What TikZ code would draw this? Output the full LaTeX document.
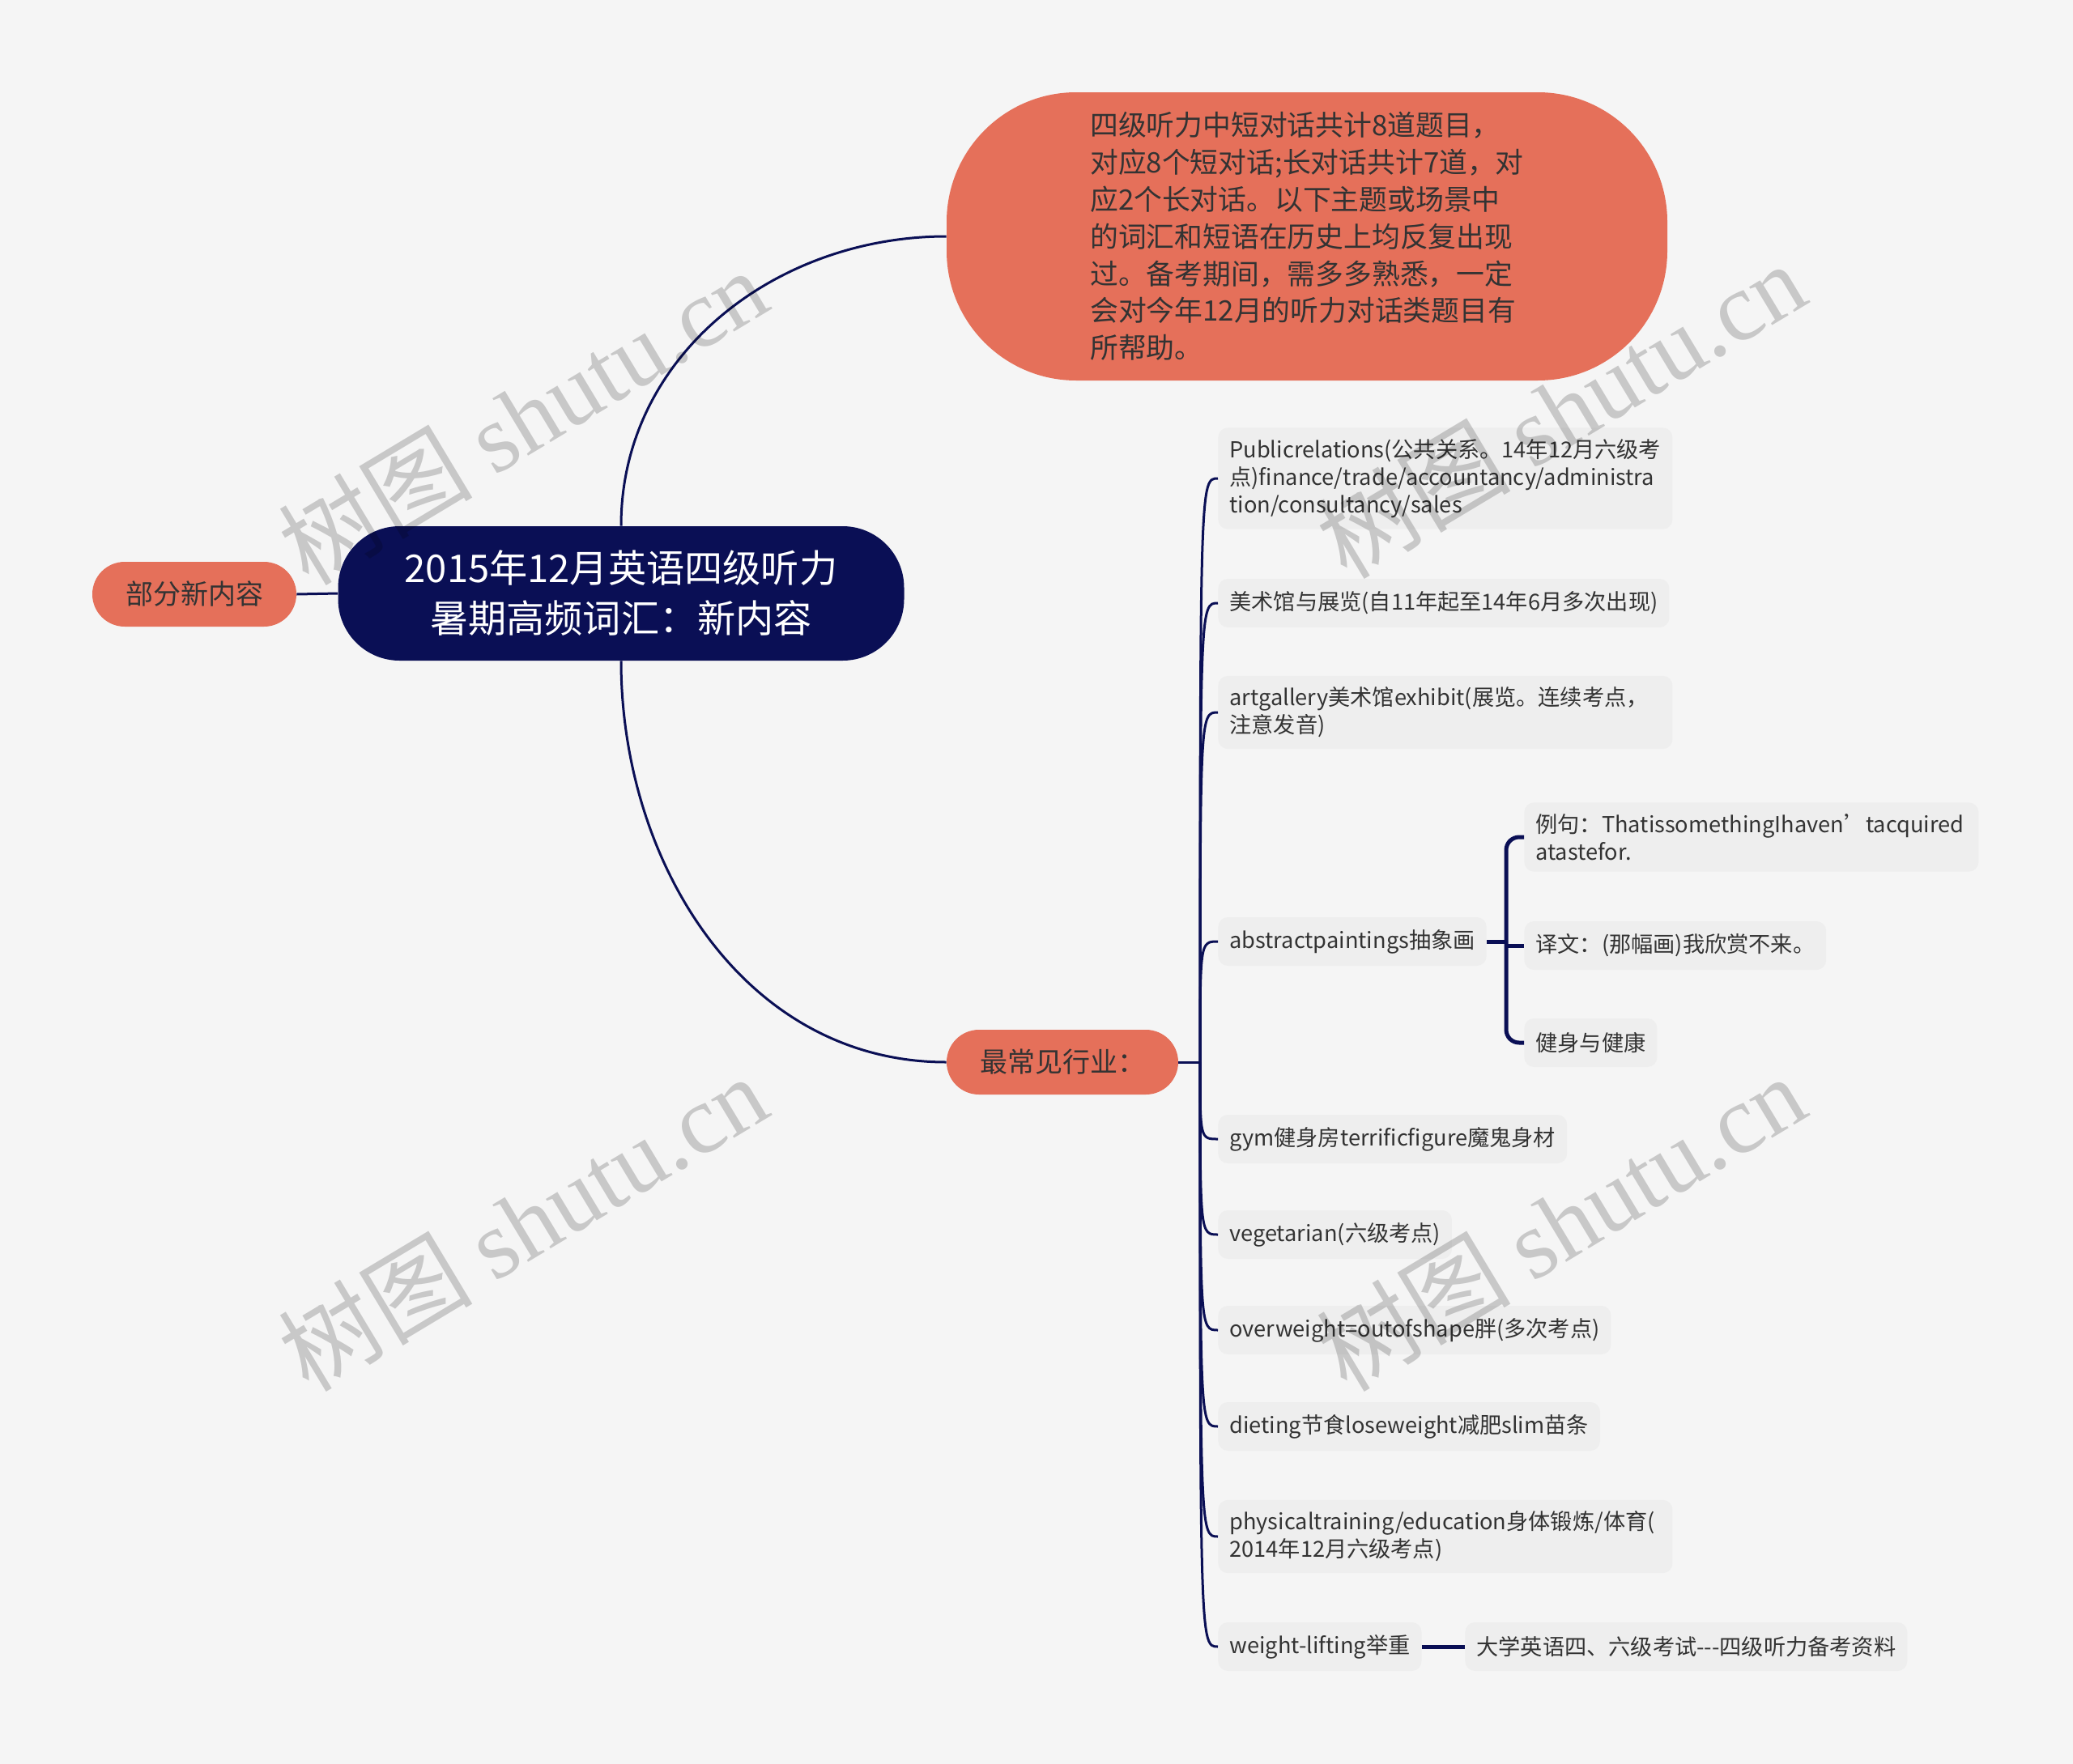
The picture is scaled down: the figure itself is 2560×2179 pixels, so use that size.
\documentclass[tikz,border=0pt]{standalone}
\usepackage{fontspec}
\setmainfont{Noto Sans CJK SC}
\newfontfamily\wmfont{Liberation Serif}
\hyphenpenalty=10000
\exhyphenpenalty=10000

\definecolor{navy}{HTML}{0A0F55}
\definecolor{coral}{HTML}{E5705A}
\definecolor{paper}{HTML}{F5F5F5}
\definecolor{leafgray}{HTML}{EEEEEE}
\definecolor{ink}{HTML}{333333}

\tikzset{
  rootbox/.style={fill=navy, text=white, rounded corners=38pt,
    minimum width=349.5pt, minimum height=83pt, align=center,
    font=\fontsize{23.6}{31}\selectfont},
  coralbox/.style={fill=coral, text=ink, rounded corners=20pt,
    minimum height=40pt, font=\fontsize{17}{22}\selectfont},
  notebox/.style={coralbox, rounded corners=80pt, minimum width=445pt,
    minimum height=178pt, align=left, font=\fontsize{17.4}{22.9}\selectfont},
  leaf/.style={fill=leafgray, text=ink, rounded corners=6pt, anchor=west,
    align=left, inner xsep=7pt, inner ysep=7pt, minimum height=30pt,
    font=\fontsize{13.6}{17}\selectfont},
  wrapleaf/.style={leaf, text width=266.5pt},
  branch/.style={draw=navy, line width=1.5pt},
  bracket/.style={draw=navy, line width=2.5pt},
  wm/.style={text=black, text opacity=0.18, rotate=31,
    font=\fontsize{60}{60}\selectfont}
}

\begin{document}
\begin{tikzpicture}[x=0.5pt, y=-0.5pt]
  \fill[paper] (0,0) rectangle (2560,2179);
  \useasboundingbox (0,0) rectangle (2560,2179);

  % main topic and first level
  \node[rootbox] (root) at (767,733) {2015年12月英语四级听力\\暑期高频词汇：新内容};
  \node[coralbox, minimum width=126pt] (part) at (240,734) {部分新内容};
  \node[notebox] (note) at (1614,292) {四级听力中短对话共计8道题目，\\对应8个短对话;长对话共计7道，对\\应2个长对话。以下主题或场景中\\的词汇和短语在历史上均反复出现\\过。备考期间，需多多熟悉，一定\\会对今年12月的听力对话类题目有\\所帮助。};
  \node[coralbox, minimum width=143pt] (most) at (1312,1312) {最常见行业：};

  \draw[branch] (root.west) -- (part.east);
  \draw[branch] (root.north) to[out=90,in=180] (note.west);
  \draw[branch] (root.south) to[out=-90,in=180] (most.west);

  % leaves of the second branch
  \node[wrapleaf] (pr) at (1504,591) {Publicrelations(公共关系。14年12月六级考\\点)finance/trade/accountancy/administra\\tion/consultancy/sales};
  \node[leaf] (gallery) at (1504,745) {美术馆与展览(自11年起至14年6月多次出现)};
  \node[wrapleaf] (artg) at (1504,880) {artgallery美术馆exhibit(展览。连续考点，\\注意发音)};
  \node[leaf] (abstract) at (1504,1163) {abstractpaintings抽象画};
  \node[leaf] (gym) at (1504,1407) {gym健身房terrificfigure魔鬼身材};
  \node[leaf] (veg) at (1504,1525) {vegetarian(六级考点)};
  \node[leaf] (over) at (1504,1643) {overweight=outofshape胖(多次考点)};
  \node[leaf] (diet) at (1504,1762) {dieting节食loseweight减肥slim苗条};
  \node[wrapleaf] (phys) at (1504,1898) {physicaltraining/education身体锻炼/体育(\\2014年12月六级考点)};
  \node[leaf] (wl) at (1504,2034) {weight-lifting举重};

  \node[wrapleaf] (ex) at (1882,1034) {例句：ThatissomethingIhaven’tacquired\\atastefor.};
  \node[leaf] (tr) at (1882,1168) {译文：(那幅画)我欣赏不来。};
  \node[leaf] (fit) at (1882,1288) {健身与健康};
  \node[leaf] (dx) at (1809,2034) {大学英语四、六级考试-\kern0pt-\kern0pt-四级听力备考资料};

  \coordinate (hub) at (1482,1312);
  \draw[branch] (most.east) -- (hub);
  \foreach \leafname in {pr,gallery,artg,abstract,gym,veg,over,diet,phys,wl}
    \draw[branch] (hub) .. controls (hub |- \leafname.west) and (hub |- \leafname.west) .. (\leafname.west);

  \coordinate (sub) at (1860,1163);
  \draw[bracket] (abstract.east) -- (sub);
  \foreach \leafname in {ex,fit}
    \draw[bracket, rounded corners=8pt] (sub) |- (\leafname.west);
  \draw[bracket] (sub |- tr.west) -- (tr.west);
  \draw[bracket] (wl.east) -- (dx.west);

  % watermarks
  \node[wm] (wm1) at (645,514) {树图 {\wmfont shutu.cn}};
  \node[wm] (wm2) at (1927,506) {树图 {\wmfont shutu.cn}};
  \node[wm] (wm3) at (645,1510) {树图 {\wmfont shutu.cn}};
  \node[wm] (wm4) at (1927,1510) {树图 {\wmfont shutu.cn}};
\end{tikzpicture}
\end{document}
